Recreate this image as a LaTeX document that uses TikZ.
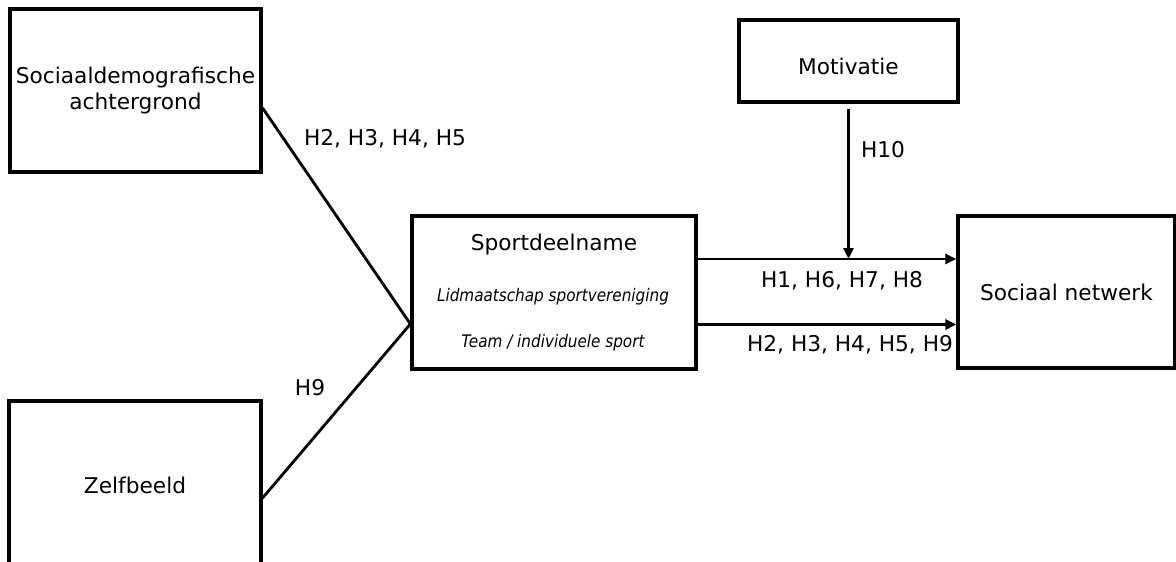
\documentclass[tikz,border=0pt]{standalone}
\usepackage{fontspec}
\setmainfont{DejaVu Sans}
\newfontfamily\itcond{DejaVu Sans}[FakeStretch=0.88]
\usetikzlibrary{arrows.meta}
\tikzset{
  box/.style={draw=black, line width=3.2pt, rectangle, align=center, inner sep=0pt,
    font=\fontsize{21.7}{25.5}\selectfont},
  conn/.style={line width=2.8pt, line cap=butt},
  arr/.style={conn, -{Triangle[length=11pt,width=10pt]}},
  lbl/.style={font=\fontsize{21.7}{25.5}\selectfont, inner sep=0pt},
  sub/.style={font=\itcond\itshape\fontsize{17.3}{20}\selectfont, inner sep=0pt}
}
\begin{document}
\begin{tikzpicture}[x=1pt, y=-1pt]
\useasboundingbox (0,0) rectangle (1176,562);
% boxes
\node[box, minimum width=251pt, minimum height=163pt] (soc) at (135.5,90.5)
  {Sociaaldemografische\\achtergrond};
\node[box, minimum width=252pt, minimum height=166pt] (zelf) at (135,484) {};
\node[lbl] (zelft) at (135,485) {Zelfbeeld};
\node[box, minimum width=284pt, minimum height=153pt] (sport) at (554,292.5) {};
\node[lbl] (sportt) at (554,245) {Sportdeelname};
\node[sub] (lid) at (553,297) {Lidmaatschap sportvereniging};
\node[sub] (team) at (553,343) {Team / individuele sport};
\node[box, minimum width=219pt, minimum height=82pt] (mot) at (848.5,61) {};
\node[lbl] (mott) at (848.5,66) {Motivatie};
\node[box, minimum width=217pt, minimum height=152pt] (net) at (1066.5,292) {Sociaal netwerk};
% connectors
\coordinate (conv) at ([yshift=-31.5pt]sport.west);
\draw[conn] ([yshift=-17.5pt]soc.east) -- (conv);
\draw[conn] ([yshift=-14pt]zelf.east) -- (conv);
\coordinate (atop) at ([yshift=33.5pt]sport.east);
\coordinate (abot) at ([yshift=-32pt]sport.east);
\draw[arr] (atop) -- (atop -| net.west);
\draw[arr] (abot) -- (abot -| net.west);
\draw[arr] ([yshift=-5pt]mot.south) -- (mot.south |- atop);
% labels
\node[lbl] (l1) at (385,139) {H2, H3, H4, H5};
\node[lbl] (l2) at (310,388) {H9};
\node[lbl] (l3) at (883,150) {H10};
\node[lbl] (l4) at (842,281) {H1, H6, H7, H8};
\node[lbl] (l5) at (850,345) {H2, H3, H4, H5, H9};
\end{tikzpicture}
\end{document}
